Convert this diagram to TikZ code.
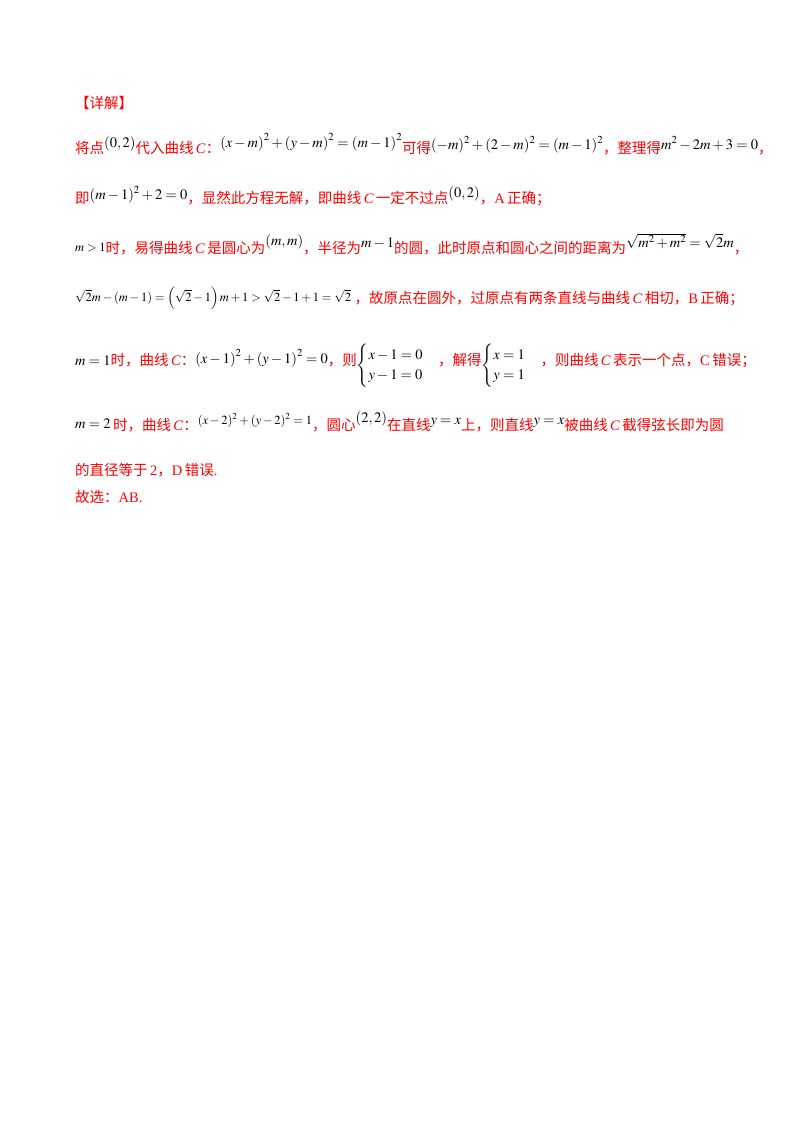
\documentclass[tikz,border=0pt]{standalone}
\usepackage{amsmath}
\usepackage{mathptmx}
\usepackage{fontspec}
\setmainfont{Liberation Serif}
\newfontfamily\cjk{Noto Sans CJK SC}
\newcommand{\zh}[1]{{\cjk #1}}
\newcommand{\M}[2][4pt]{\textcolor{black}{\raisebox{#1}{$#2$}}}
\newcommand{\Ms}[2][4pt]{\textcolor{black}{\raisebox{#1}{\fontsize{12.5}{14}\selectfont$#2$}}}
\tikzset{ln/.style={anchor=base west,inner sep=0pt,text=red,font=\fontsize{14.5}{17}\selectfont}}
\begin{document}
\begin{tikzpicture}[x=1pt,y=-1pt]
\useasboundingbox[fill=white] (0,0) rectangle (800,1132);
\node[ln] (h) at (75,108) {\zh{【详解】}};
\node[ln] (l1) at (75,153) {\zh{将点}\M[6pt]{(0,2)}\zh{代入曲线}\,\textit{C}\zh{：}\M[6pt]{\left(x-m\right)^2+\left(y-m\right)^2=\left(m-1\right)^2}\zh{可得}\M{(-m)^2+(2-m)^2=(m-1)^2}\zh{，整理得}\M{m^2-2m+3=0}\zh{，}};
\node[ln] (l2) at (75,203) {\zh{即}\M{(m-1)^2+2=0}\zh{，显然此方程无解，即曲线}\,\textit{C}\,\zh{一定不过点}\M[6pt]{(0,2)}\zh{，}A\,\zh{正确；}};
\node[ln] (l3) at (75,253) {\Ms[2pt]{m>1}\zh{时，易得曲线}\,\textit{C}\,\zh{是圆心为}\M[8pt]{(m,m)}\zh{，半径为}\M[6pt]{m-1}\zh{的圆，此时原点和圆心之间的距离为}\M[6pt]{\sqrt{m^2+m^2}=\sqrt{2}m}\zh{，}};
\node[ln] (l4) at (75,303) {\Ms[2pt]{\sqrt{2}m-(m-1)=\left(\sqrt{2}-1\right)m+1>\sqrt{2}-1+1=\sqrt{2}}\ \zh{，故原点在圆外，过原点有两条直线与曲线}\,\textit{C}\,\zh{相切，}B\,\zh{正确；}};
\node[ln] (l5) at (75,365) {\M[0pt]{m=1}\zh{时，曲线}\,\textit{C}\zh{：}\M[2pt]{\left(x-1\right)^2+\left(y-1\right)^2=0}\zh{，则}\M[-4pt]{\begin{cases}x-1=0\\y-1=0\end{cases}}\zh{，解得}\M[-4pt]{\begin{cases}x=1\\y=1\end{cases}}\zh{，则曲线}\,\textit{C}\,\zh{表示一个点，}C\,\zh{错误；}};
\node[ln] (l6) at (75,430) {\M[2pt]{m=2}\,\zh{时，曲线}\,\textit{C}\zh{：}\Ms[6pt]{(x-2)^2+(y-2)^2=1}\zh{，圆心}\M[8pt]{(2,2)}\zh{在直线}\M[6pt]{y=x}\zh{上，则直线}\M[6pt]{y=x}\zh{被曲线}\,\textit{C}\,\zh{截得弦长即为圆}};
\node[ln] (l7) at (75,475) {\zh{的直径等于}\,2\zh{，}D\,\zh{错误}.};
\node[ln] (l8) at (75,502) {\zh{故选：}AB.};
\end{tikzpicture}
\end{document}
